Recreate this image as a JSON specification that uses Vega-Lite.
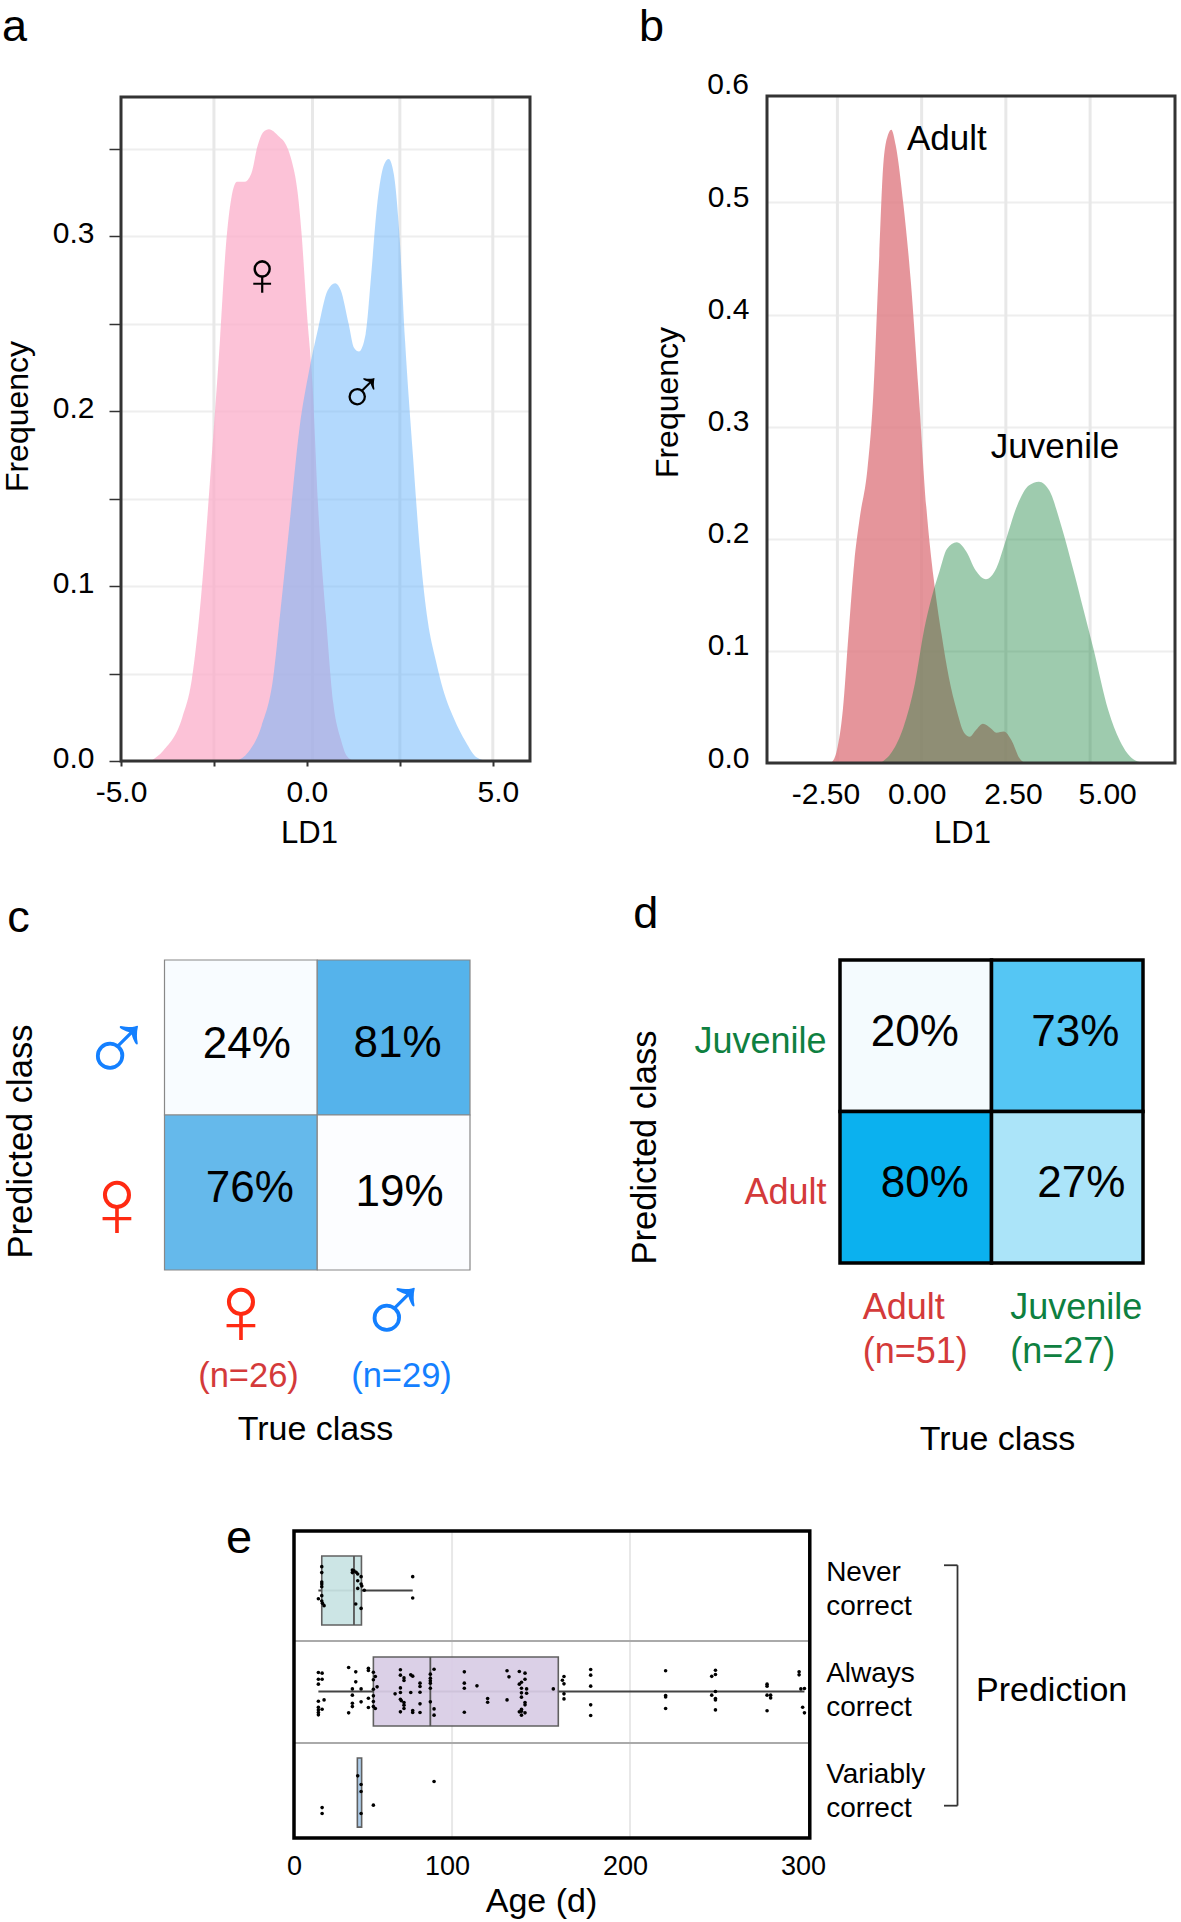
{
"$schema":"https://vega.github.io/schema/vega-lite/v6.json",
"width":1181,"height":1922,"autosize":{"type":"none"},"padding":0,"background":"white",
"config":{"font":"Liberation Sans","view":{"stroke":null},"axis":{"labelFont":"Liberation Sans","titleFont":"Liberation Sans","titleFontWeight":"normal","labelColor":"#000","titleColor":"#000","tickColor":"#333","labelFlush":false,"labelOverlap":false,"domain":false,"labelBound":false},"text":{"font":"Liberation Sans"}},
"datasets":{
"sex":[
{"group":"♀","x":-4.2,"y":0},{"group":"♀","x":-3.86,"y":0.006},{"group":"♀","x":-3.35,"y":0.025},{"group":"♀","x":-3.1,"y":0.046},{"group":"♀","x":-2.85,"y":0.093},{"group":"♀","x":-2.59,"y":0.165},{"group":"♀","x":-2.34,"y":0.24},{"group":"♀","x":-2.18,"y":0.294},{"group":"♀","x":-2.03,"y":0.322},{"group":"♀","x":-1.88,"y":0.331},{"group":"♀","x":-1.68,"y":0.331},{"group":"♀","x":-1.5,"y":0.3355},{"group":"♀","x":-1.32,"y":0.352},{"group":"♀","x":-1.17,"y":0.3595},{"group":"♀","x":-1.02,"y":0.361},{"group":"♀","x":-0.76,"y":0.357},{"group":"♀","x":-0.56,"y":0.352},{"group":"♀","x":-0.41,"y":0.343},{"group":"♀","x":-0.25,"y":0.325},{"group":"♀","x":-0.15,"y":0.303},{"group":"♀","x":0,"y":0.256},{"group":"♀","x":0.15,"y":0.215},{"group":"♀","x":0.3,"y":0.146},{"group":"♀","x":0.51,"y":0.083},{"group":"♀","x":0.71,"y":0.033},{"group":"♀","x":0.91,"y":0.0126},{"group":"♀","x":1.07,"y":0.003},{"group":"♀","x":1.27,"y":0},
{"group":"♂","x":-1.88,"y":0},{"group":"♂","x":-1.58,"y":0.005},{"group":"♂","x":-1.22,"y":0.02},{"group":"♂","x":-0.91,"y":0.047},{"group":"♂","x":-0.71,"y":0.086},{"group":"♂","x":-0.46,"y":0.137},{"group":"♂","x":-0.2,"y":0.19},{"group":"♂","x":0.05,"y":0.222},{"group":"♂","x":0.3,"y":0.247},{"group":"♂","x":0.56,"y":0.269},{"group":"♂","x":0.76,"y":0.273},{"group":"♂","x":0.91,"y":0.269},{"group":"♂","x":1.12,"y":0.25},{"group":"♂","x":1.27,"y":0.236},{"group":"♂","x":1.4,"y":0.234},{"group":"♂","x":1.58,"y":0.244},{"group":"♂","x":1.73,"y":0.278},{"group":"♂","x":1.88,"y":0.316},{"group":"♂","x":2.08,"y":0.341},{"group":"♂","x":2.2,"y":0.344},{"group":"♂","x":2.34,"y":0.335},{"group":"♂","x":2.49,"y":0.3},{"group":"♂","x":2.64,"y":0.24},{"group":"♂","x":2.85,"y":0.175},{"group":"♂","x":3.05,"y":0.118},{"group":"♂","x":3.25,"y":0.08},{"group":"♂","x":3.46,"y":0.058},{"group":"♂","x":3.66,"y":0.041},{"group":"♂","x":3.96,"y":0.024},{"group":"♂","x":4.27,"y":0.011},{"group":"♂","x":4.57,"y":0.002},{"group":"♂","x":4.88,"y":0}],
"age":[
{"group":"Adult","x":-2.68,"y":0},{"group":"Adult","x":-2.51,"y":0.012},{"group":"Adult","x":-2.34,"y":0.047},{"group":"Adult","x":-2.17,"y":0.115},{"group":"Adult","x":-2.0,"y":0.179},{"group":"Adult","x":-1.84,"y":0.218},{"group":"Adult","x":-1.61,"y":0.262},{"group":"Adult","x":-1.44,"y":0.326},{"group":"Adult","x":-1.27,"y":0.444},{"group":"Adult","x":-1.13,"y":0.537},{"group":"Adult","x":-0.99,"y":0.561},{"group":"Adult","x":-0.9,"y":0.565},{"group":"Adult","x":-0.77,"y":0.551},{"group":"Adult","x":-0.54,"y":0.498},{"group":"Adult","x":-0.32,"y":0.429},{"group":"Adult","x":-0.09,"y":0.331},{"group":"Adult","x":0.14,"y":0.228},{"group":"Adult","x":0.36,"y":0.164},{"group":"Adult","x":0.59,"y":0.115},{"group":"Adult","x":0.81,"y":0.076},{"group":"Adult","x":1.04,"y":0.047},{"group":"Adult","x":1.26,"y":0.027},{"group":"Adult","x":1.43,"y":0.0235},{"group":"Adult","x":1.6,"y":0.029},{"group":"Adult","x":1.82,"y":0.035},{"group":"Adult","x":2.05,"y":0.031},{"group":"Adult","x":2.22,"y":0.027},{"group":"Adult","x":2.44,"y":0.028},{"group":"Adult","x":2.67,"y":0.02},{"group":"Adult","x":2.89,"y":0.005},{"group":"Adult","x":3.06,"y":0},
{"group":"Juvenile","x":-1.22,"y":0},{"group":"Juvenile","x":-0.88,"y":0.01},{"group":"Juvenile","x":-0.54,"y":0.032},{"group":"Juvenile","x":-0.2,"y":0.071},{"group":"Juvenile","x":0.08,"y":0.12},{"group":"Juvenile","x":0.3,"y":0.148},{"group":"Juvenile","x":0.53,"y":0.171},{"group":"Juvenile","x":0.75,"y":0.191},{"group":"Juvenile","x":1.04,"y":0.197},{"group":"Juvenile","x":1.32,"y":0.189},{"group":"Juvenile","x":1.6,"y":0.172},{"group":"Juvenile","x":1.91,"y":0.164},{"group":"Juvenile","x":2.22,"y":0.174},{"group":"Juvenile","x":2.5,"y":0.199},{"group":"Juvenile","x":2.84,"y":0.23},{"group":"Juvenile","x":3.18,"y":0.2475},{"group":"Juvenile","x":3.48,"y":0.251},{"group":"Juvenile","x":3.79,"y":0.243},{"group":"Juvenile","x":4.13,"y":0.213},{"group":"Juvenile","x":4.53,"y":0.169},{"group":"Juvenile","x":4.81,"y":0.136},{"group":"Juvenile","x":5.09,"y":0.103},{"group":"Juvenile","x":5.54,"y":0.047},{"group":"Juvenile","x":5.88,"y":0.02},{"group":"Juvenile","x":6.33,"y":0.0025},{"group":"Juvenile","x":6.67,"y":0}],
"cellsSex":[{"true":"♀","predicted":"♂","pct":24,"label":"24%"},{"true":"♂","predicted":"♂","pct":81,"label":"81%"},{"true":"♀","predicted":"♀","pct":76,"label":"76%"},{"true":"♂","predicted":"♀","pct":19,"label":"19%"}],
"cellsAge":[{"true":"Adult","predicted":"Juvenile","pct":20,"label":"20%"},{"true":"Juvenile","predicted":"Juvenile","pct":73,"label":"73%"},{"true":"Adult","predicted":"Adult","pct":80,"label":"80%"},{"true":"Juvenile","predicted":"Adult","pct":27,"label":"27%"}],
"boxes":[{"prediction":"Never\ncorrect","row":1,"top":0.658,"bottom":1.342,"q1":26.8,"median":44.9,"q3":49.1,"lo":24.9,"hi":77.9},{"prediction":"Always\ncorrect","row":2,"top":1.658,"bottom":2.342,"q1":55.8,"median":87.8,"q3":159.7,"lo":24.9,"hi":298},{"prediction":"Variably\ncorrect","row":3,"top":2.658,"bottom":3.342,"q1":46.8,"median":null,"q3":49.2,"lo":47,"hi":49}],
"dots":[
{"age":26.8,"pos":0.764},{"age":26.8,"pos":0.823},{"age":26.8,"pos":0.916},{"age":26.8,"pos":0.936},{"age":26.8,"pos":0.962},{"age":24.9,"pos":1.081},{"age":26.8,"pos":1.051},{"age":26.8,"pos":1.104},{"age":27.2,"pos":1.127},{"age":28.1,"pos":1.15},{"age":44,"pos":0.797},{"age":44,"pos":0.823},{"age":44.9,"pos":0.804},{"age":46.1,"pos":0.82},{"age":47,"pos":0.837},{"age":48.9,"pos":0.863},{"age":47,"pos":0.903},{"age":47,"pos":0.979},{"age":48.9,"pos":0.936},{"age":49.3,"pos":0.955},{"age":50.7,"pos":0.998},{"age":45.9,"pos":1.134},{"age":48.9,"pos":1.177},{"age":77.9,"pos":0.863},{"age":77.9,"pos":1.074},
{"age":24.9,"pos":1.812},{"age":27,"pos":1.818},{"age":24.9,"pos":1.878},{"age":27,"pos":1.878},{"age":24.9,"pos":1.927},{"age":24.9,"pos":2.096},{"age":28.1,"pos":2.083},{"age":24.9,"pos":2.155},{"age":27,"pos":2.175},{"age":24.9,"pos":2.182},{"age":24.9,"pos":2.208},{"age":24.9,"pos":2.231},
{"age":41.9,"pos":1.762},{"age":45.9,"pos":1.805},{"age":45.9,"pos":1.904},{"age":44,"pos":1.974},{"age":48.9,"pos":1.974},{"age":44,"pos":2.036},{"age":44,"pos":2.116},{"age":44,"pos":2.149},{"age":48.9,"pos":2.102},{"age":41.9,"pos":2.211},{"age":53,"pos":1.769},{"age":53,"pos":1.792},{"age":53,"pos":2.066},{"age":53,"pos":2.158},
{"age":55.8,"pos":1.809},{"age":56.9,"pos":1.851},{"age":55.8,"pos":1.884},{"age":57.9,"pos":1.954},{"age":55.8,"pos":1.977},{"age":55.8,"pos":2.043},{"age":55.8,"pos":2.099},{"age":55.8,"pos":2.149},{"age":56.9,"pos":2.168},
{"age":71,"pos":1.785},{"age":71,"pos":1.838},{"age":73,"pos":1.865},{"age":73,"pos":1.891},{"age":76.8,"pos":1.835},{"age":77.9,"pos":1.848},{"age":82,"pos":1.917},{"age":82,"pos":1.95},{"age":71,"pos":1.964},{"age":71,"pos":2.01},{"age":68,"pos":2.023},{"age":76.8,"pos":2.01},{"age":82,"pos":2.007},{"age":71,"pos":2.076},{"age":71.5,"pos":2.092},{"age":73,"pos":2.109},{"age":73,"pos":2.135},{"age":73,"pos":2.168},{"age":82,"pos":2.122},{"age":71,"pos":2.201},{"age":77.9,"pos":2.188},{"age":77.9,"pos":2.208},{"age":82,"pos":2.208},
{"age":87.8,"pos":1.828},{"age":87.8,"pos":1.868},{"age":87.8,"pos":1.894},{"age":87.8,"pos":1.917},{"age":87.8,"pos":1.967},{"age":89.9,"pos":1.779},{"age":87.8,"pos":2.102},{"age":89.9,"pos":2.172},{"age":89.9,"pos":2.234},
{"age":106.9,"pos":1.805},{"age":106.9,"pos":1.917},{"age":106.9,"pos":1.967},{"age":106.9,"pos":2.205},{"age":114,"pos":1.944},{"age":120,"pos":2.069},{"age":120,"pos":2.106},{"age":130.9,"pos":2.083},{"age":130.9,"pos":1.795},{"age":132,"pos":1.855},
{"age":137.8,"pos":1.802},{"age":141,"pos":1.818},{"age":141,"pos":1.878},{"age":139,"pos":1.908},{"age":137.8,"pos":1.927},{"age":141.9,"pos":1.974},{"age":139,"pos":1.967},{"age":139,"pos":2.013},{"age":141.9,"pos":2.017},{"age":139,"pos":2.056},{"age":141,"pos":2.109},{"age":141,"pos":2.132},{"age":139,"pos":2.175},{"age":137.8,"pos":2.201},{"age":139,"pos":2.195},{"age":139,"pos":2.234},{"age":141,"pos":2.211},
{"age":156.9,"pos":1.974},{"age":162,"pos":1.888},{"age":162.9,"pos":1.851},{"age":162.9,"pos":1.924},{"age":162.9,"pos":2.023},{"age":162.9,"pos":2.073},{"age":177.9,"pos":1.782},{"age":177.9,"pos":1.838},{"age":177.9,"pos":1.947},{"age":177.9,"pos":2.132},{"age":177.9,"pos":2.238},
{"age":220,"pos":1.795},{"age":220,"pos":2.04},{"age":220,"pos":2.053},{"age":220,"pos":2.168},{"age":248,"pos":1.789},{"age":248,"pos":1.832},{"age":248,"pos":2},{"age":248,"pos":2.069},{"age":248,"pos":2.083},{"age":248,"pos":2.182},{"age":245.9,"pos":1.85},{"age":245.9,"pos":2.036},{"age":277,"pos":1.927},{"age":277,"pos":1.947},{"age":277,"pos":2.036},{"age":277,"pos":2.191},{"age":279,"pos":2.036},{"age":279,"pos":2.063},{"age":295,"pos":1.805},{"age":295,"pos":1.835},{"age":296,"pos":1.974},{"age":298,"pos":1.97},{"age":297,"pos":2.155},{"age":298,"pos":2.211},
{"age":47,"pos":2.835},{"age":48.9,"pos":2.921},{"age":48.9,"pos":2.99},{"age":48.9,"pos":3.208},{"age":27,"pos":3.149},{"age":27,"pos":3.208},{"age":55.8,"pos":3.125},{"age":89.9,"pos":2.89}]
},
"resolve":{"scale":{"x":"independent","y":"independent","color":"independent"},"axis":{"x":"independent","y":"independent"}},
"layer":[
{"layer":[
{"data":{"values":[{"x":-2.5},{"x":0.15},{"x":2.5},{"x":5}]},"mark":{"type":"rule","color":"#e8e8e8","strokeWidth":3},"encoding":{"x":{"field":"x","type":"quantitative","scale":{"domain":[-5,6],"range":[121,530],"nice":false,"zero":false},"axis":null},"y":{"datum":0,"scale":{"domain":[0,0.3795],"range":[761,97],"nice":false,"zero":false},"axis":null},"y2":{"datum":0.3795}}},
{"data":{"name":"sex"},"mark":{"type":"area","interpolate":"monotone"},"encoding":{
"x":{"field":"x","type":"quantitative","axis":null},
"y":{"field":"y","type":"quantitative","stack":null,"axis":null},
"color":{"field":"group","type":"nominal","scale":{"domain":["♀","♂"],"range":["rgba(251,173,201,0.75)","rgba(104,180,252,0.5)"]},"legend":null}}},
{"data":{"values":[{"label":"♀","x":-1.2,"y":0.277},{"label":"♂","x":1.47,"y":0.21}]},"mark":{"type":"text","font":"Liberation Sans","fontSize":62,"baseline":"middle","color":"#000"},"encoding":{"x":{"field":"x","type":"quantitative","axis":null},"y":{"field":"y","type":"quantitative","axis":null},"text":{"field":"label"}}},
{"data":{"values":[{"label":"a","x":-8.2,"y":0.4114},{"label":"c","x":-8.06,"y":-0.0977}]},"mark":{"type":"text","fontSize":45,"align":"left","baseline":"alphabetic","color":"#000"},"encoding":{"x":{"field":"x","type":"quantitative","axis":null},"y":{"field":"y","type":"quantitative","axis":null},"text":{"field":"label"}}}
]},
{"data":{"values":[{}]},"mark":{"type":"rect","filled":false,"stroke":"#333","strokeWidth":3},"encoding":{
"x":{"datum":-5,"scale":{"domain":[-5,6],"range":[121,530],"nice":false,"zero":false},"axis":{"orient":"bottom","offset":-1161,"values":[-5,-2.5,0,2.5,5],"labelExpr":"abs(datum.value)==2.5 ? '' : replace(format(datum.value,'.1f'),'−','-')","labelFontSize":30,"labelBaseline":"middle","labelPadding":26,"labelOffset":{"condition":{"test":"datum.value==5","value":5},"value":0},"tickSize":5,"tickWidth":2,"title":"LD1","titleFontSize":31,"titleX":309,"titleY":72,"titleBaseline":"middle"}},"x2":{"datum":6},
"y":{"datum":0,"scale":{"domain":[0,0.3795],"range":[761,97],"nice":false,"zero":false},"axis":{"orient":"left","offset":-121,"values":[0,0.05,0.1,0.15,0.2,0.25,0.3,0.35],"labelExpr":"round(datum.value*100)%10==0 ? format(datum.value,'.1f') : ''","labelFontSize":30,"labelPadding":15,"labelOffset":-3,"tickSize":12,"tickWidth":1.5,"grid":true,"gridColor":"#eeeeee","gridWidth":2,"title":"Frequency","titleFontSize":32,"titleX":-104,"titleY":416,"titleBaseline":"middle"}},"y2":{"datum":0.3795}}},
{"layer":[
{"data":{"values":[{"x":-2.5},{"x":0},{"x":2.5},{"x":5}]},"mark":{"type":"rule","color":"#e8e8e8","strokeWidth":3},"encoding":{"x":{"field":"x","type":"quantitative","scale":{"domain":[-4.59,7.52],"range":[767,1175],"nice":false,"zero":false},"axis":null},"y":{"datum":0,"scale":{"domain":[0,0.595],"range":[763,96],"nice":false,"zero":false},"axis":null},"y2":{"datum":0.595}}},
{"data":{"name":"age"},"mark":{"type":"area","interpolate":"monotone"},"encoding":{
"x":{"field":"x","type":"quantitative","axis":null},
"y":{"field":"y","type":"quantitative","stack":null,"axis":null},
"color":{"field":"group","type":"nominal","scale":{"domain":["Adult","Juvenile"],"range":["rgba(222,122,130,0.8)","rgba(30,135,67,0.43)"]},"legend":null}}},
{"data":{"values":[{"label":"Adult","x":0.75,"y":0.5566},{"label":"Juvenile","x":3.96,"y":0.2815}]},"mark":{"type":"text","fontSize":35,"align":"center","baseline":"middle","color":"#000"},"encoding":{"x":{"field":"x","type":"quantitative","axis":null},"y":{"field":"y","type":"quantitative","axis":null},"text":{"field":"label"}}},
{"data":{"values":[{"label":"0.6","x":-4.59,"y":0.6}]},"mark":{"type":"text","fontSize":30,"align":"right","baseline":"middle","dx":-18,"dy":-5,"color":"#000"},"encoding":{"x":{"field":"x","type":"quantitative","axis":null},"y":{"field":"y","type":"quantitative","axis":null},"text":{"field":"label"}}},
{"data":{"values":[{"label":"b","x":-8.39,"y":0.644},{"label":"d","x":-8.56,"y":-0.147}]},"mark":{"type":"text","fontSize":45,"align":"left","baseline":"alphabetic","color":"#000"},"encoding":{"x":{"field":"x","type":"quantitative","axis":null},"y":{"field":"y","type":"quantitative","axis":null},"text":{"field":"label"}}}
]},
{"data":{"values":[{}]},"mark":{"type":"rect","filled":false,"stroke":"#333","strokeWidth":3},"encoding":{
"x":{"datum":-4.59,"scale":{"domain":[-4.59,7.52],"range":[767,1175],"nice":false,"zero":false},"axis":{"orient":"bottom","offset":-1159,"values":[-2.5,0,2.5,5],"labelExpr":"replace(format(datum.value,'.2f'),'−','-')","labelFontSize":30,"labelBaseline":"middle","labelPadding":31,"tickSize":0,"ticks":false,"labelOffset":{"condition":[{"test":"datum.value==-2.5","value":-12},{"test":"datum.value==0","value":-5},{"test":"datum.value==2.5","value":7}],"value":17},"title":"LD1","titleFontSize":31,"titleX":962,"titleY":70,"titleBaseline":"middle"}},"x2":{"datum":7.52},
"y":{"datum":0,"scale":{"domain":[0,0.595],"range":[763,96],"nice":false,"zero":false},"axis":{"orient":"left","offset":-767,"values":[0,0.1,0.2,0.3,0.4,0.5],"format":".1f","labelFontSize":30,"labelPadding":18,"labelOffset":-5,"tickSize":0,"ticks":false,"grid":true,"gridColor":"#eeeeee","gridWidth":2,"title":"Frequency","titleFontSize":32,"titleX":-100,"titleY":402,"titleBaseline":"middle"}},"y2":{"datum":0.595}}},
{"data":{"name":"cellsSex"},"mark":{"type":"rect","stroke":"#888","strokeWidth":1.2},"encoding":{
"x":{"field":"true","type":"nominal","scale":{"type":"band","domain":["♀","♂"],"range":[164.5,470],"paddingInner":0,"paddingOuter":0},"axis":{"orient":"bottom","offset":-652,"labelFont":"Liberation Sans","labelFontSize":100,"labelAngle":0,"labelBaseline":"middle","labelPadding":43,"ticks":false,"tickSize":0,"labelColor":{"condition":{"test":"datum.value=='♀'","value":"#FF2A12"},"value":"#1480FF"},"title":"True class","titleFontSize":34,"titleX":315,"titleY":159,"titleBaseline":"middle"}},
"y":{"field":"predicted","type":"nominal","scale":{"type":"band","domain":["♂","♀"],"range":[960,1270],"paddingInner":0,"paddingOuter":0},"axis":{"orient":"left","offset":-164.5,"labelFont":"Liberation Sans","labelFontSize":100,"labelAlign":"center","labelPadding":48,"labelOffset":14,"ticks":false,"tickSize":0,"labelColor":{"condition":{"test":"datum.value=='♀'","value":"#FF2A12"},"value":"#1480FF"},"title":"Predicted class","titleFontSize":34.5,"titleX":-143,"titleY":1141,"titleBaseline":"middle"}},
"color":{"field":"pct","type":"quantitative","scale":{"domain":[19,24,76,81],"range":["#FCFDFF","#F8FCFF","#65B9EB","#55B3EB"]},"legend":null}}},
{"data":{"name":"cellsSex"},"layer":[
{"transform":[{"filter":"datum.label=='24%'"}],"mark":{"type":"text","fontSize":44,"dx":6,"dy":7,"baseline":"middle","color":"#000"},"encoding":{"x":{"field":"true","type":"nominal","scale":{"type":"band","domain":["♀","♂"],"range":[164.5,470],"paddingInner":0,"paddingOuter":0},"axis":null},"y":{"field":"predicted","type":"nominal","scale":{"type":"band","domain":["♂","♀"],"range":[960,1270],"paddingInner":0,"paddingOuter":0},"axis":null},"text":{"field":"label"}}},
{"transform":[{"filter":"datum.label=='81%'"}],"mark":{"type":"text","fontSize":44,"dx":4,"dy":6,"baseline":"middle","color":"#000"},"encoding":{"x":{"field":"true","type":"nominal","axis":null},"y":{"field":"predicted","type":"nominal","axis":null},"text":{"field":"label"}}},
{"transform":[{"filter":"datum.label=='76%'"}],"mark":{"type":"text","fontSize":44,"dx":9,"dy":-4,"baseline":"middle","color":"#000"},"encoding":{"x":{"field":"true","type":"nominal","axis":null},"y":{"field":"predicted","type":"nominal","axis":null},"text":{"field":"label"}}},
{"transform":[{"filter":"datum.label=='19%'"}],"mark":{"type":"text","fontSize":44,"dx":6,"dy":0,"baseline":"middle","color":"#000"},"encoding":{"x":{"field":"true","type":"nominal","axis":null},"y":{"field":"predicted","type":"nominal","axis":null},"text":{"field":"label"}}}
]},
{"data":{"values":[{"true":"♀","row":"n","label":"(n=26)"},{"true":"♂","row":"n","label":"(n=29)"}]},"mark":{"type":"text","fontSize":34.5,"baseline":"middle"},"encoding":{
"x":{"field":"true","type":"nominal","scale":{"type":"band","domain":["♀","♂"],"range":[172,478],"paddingInner":0,"paddingOuter":0},"axis":null},
"y":{"field":"row","type":"nominal","scale":{"type":"band","domain":["n"],"range":[1357,1397],"paddingInner":0,"paddingOuter":0},"axis":null},
"color":{"field":"true","type":"nominal","scale":{"domain":["♀","♂"],"range":["#D43A3A","#1480FF"]},"legend":null},
"text":{"field":"label"}}},
{"data":{"name":"cellsAge"},"mark":{"type":"rect","stroke":"#000","strokeWidth":3.5},"encoding":{
"x":{"field":"true","type":"nominal","scale":{"type":"band","domain":["Adult","Juvenile"],"range":[840,1143],"paddingInner":0,"paddingOuter":0},"axis":{"orient":"bottom","offset":-659,"labelExpr":"datum.value=='Adult' ? ['Adult','(n=51)'] : ['Juvenile','(n=27)']","labelFontSize":36,"labelAngle":0,"labelAlign":"left","labelBaseline":"top","labelLineHeight":44,"labelOffset":{"condition":{"test":"datum.value=='Adult'","value":-53},"value":-57},"labelPadding":27,"ticks":false,"tickSize":0,"labelColor":{"condition":{"test":"datum.value=='Adult'","value":"#D43A3A"},"value":"#0E8040"},"title":"True class","titleFontSize":34,"titleX":997,"titleY":176,"titleBaseline":"middle"}},
"y":{"field":"predicted","type":"nominal","scale":{"type":"band","domain":["Juvenile","Adult"],"range":[960,1263],"paddingInner":0,"paddingOuter":0},"axis":{"orient":"left","offset":-840,"labelFontSize":36,"labelPadding":14,"labelOffset":6,"ticks":false,"tickSize":0,"labelColor":{"condition":{"test":"datum.value=='Adult'","value":"#D43A3A"},"value":"#0E8040"},"title":"Predicted class","titleFontSize":34.5,"titleX":-195,"titleY":1147,"titleBaseline":"middle"}},
"color":{"field":"pct","type":"quantitative","scale":{"domain":[20,27,73,80],"range":["#F4FBFE","#ABE4F9","#55C6F4","#0BB1EF"]},"legend":null}}},
{"data":{"name":"cellsAge"},"layer":[
{"transform":[{"filter":"datum.label=='20%'"}],"mark":{"type":"text","fontSize":44,"dx":-1,"dy":-3,"baseline":"middle","color":"#000"},"encoding":{"x":{"field":"true","type":"nominal","scale":{"type":"band","domain":["Adult","Juvenile"],"range":[840,1143],"paddingInner":0,"paddingOuter":0},"axis":null},"y":{"field":"predicted","type":"nominal","scale":{"type":"band","domain":["Juvenile","Adult"],"range":[960,1263],"paddingInner":0,"paddingOuter":0},"axis":null},"text":{"field":"label"}}},
{"transform":[{"filter":"datum.label=='73%'"}],"mark":{"type":"text","fontSize":44,"dx":8,"dy":-3,"baseline":"middle","color":"#000"},"encoding":{"x":{"field":"true","type":"nominal","axis":null},"y":{"field":"predicted","type":"nominal","axis":null},"text":{"field":"label"}}},
{"transform":[{"filter":"datum.label=='80%'"}],"mark":{"type":"text","fontSize":44,"dx":9,"dy":-3,"baseline":"middle","color":"#000"},"encoding":{"x":{"field":"true","type":"nominal","axis":null},"y":{"field":"predicted","type":"nominal","axis":null},"text":{"field":"label"}}},
{"transform":[{"filter":"datum.label=='27%'"}],"mark":{"type":"text","fontSize":44,"dx":14,"dy":-3,"baseline":"middle","color":"#000"},"encoding":{"x":{"field":"true","type":"nominal","axis":null},"y":{"field":"predicted","type":"nominal","axis":null},"text":{"field":"label"}}}
]},
{"layer":[
{"data":{"values":[{"age":100},{"age":200}]},"mark":{"type":"rule","color":"#e8e8e8","strokeWidth":2},"encoding":{"x":{"field":"age","type":"quantitative","scale":{"domain":[11.2,300],"range":[294,808],"nice":false,"zero":false},"axis":null},"y":{"datum":0.411,"scale":{"domain":[0.411,3.45],"range":[1531,1838],"nice":false,"zero":false},"axis":null},"y2":{"datum":3.45}}},
{"data":{"values":[{"pos":1.5},{"pos":2.51}]},"mark":{"type":"rule","color":"#aaaaaa","strokeWidth":2},"encoding":{"x":{"datum":11.2,"axis":null},"x2":{"datum":300},"y":{"field":"pos","type":"quantitative","axis":null}}},
{"data":{"name":"boxes"},"mark":{"type":"rule","color":"#444","strokeWidth":1.8},"encoding":{"x":{"field":"lo","type":"quantitative","axis":null},"x2":{"field":"hi"},"y":{"field":"row","type":"quantitative","axis":null}}},
{"data":{"name":"boxes"},"mark":{"type":"rect","stroke":"#555","strokeWidth":1.6,"opacity":0.93},"encoding":{"x":{"field":"q1","type":"quantitative","axis":null},"x2":{"field":"q3"},"y":{"field":"top","type":"quantitative","axis":null},"y2":{"field":"bottom"},"color":{"field":"prediction","type":"nominal","scale":{"domain":["Never\ncorrect","Always\ncorrect","Variably\ncorrect"],"range":["#C9E4E4","#D9CDE6","#A9CBEA"]},"legend":null}}},
{"data":{"name":"boxes"},"mark":{"type":"rule","color":"#555","strokeWidth":1.8},"encoding":{"x":{"field":"median","type":"quantitative","axis":null},"y":{"field":"top","type":"quantitative","axis":null},"y2":{"field":"bottom"}}},
{"data":{"name":"dots"},"mark":{"type":"circle","size":13,"color":"#000","opacity":1},"encoding":{"x":{"field":"age","type":"quantitative","axis":null},"y":{"field":"pos","type":"quantitative","axis":null}}},
{"data":{"name":"boxes"},"mark":{"type":"text","fontSize":28,"align":"left","baseline":"middle","lineBreak":"\n","lineHeight":34,"dy":-18,"color":"#000"},"encoding":{"x":{"datum":310.2,"axis":null},"y":{"field":"row","type":"quantitative","axis":null},"text":{"field":"prediction"}}},
{"data":{"values":[{"label":"e","x":-27,"y":0.629}]},"mark":{"type":"text","fontSize":47,"align":"left","baseline":"alphabetic","color":"#000"},"encoding":{"x":{"field":"x","type":"quantitative","axis":null},"y":{"field":"y","type":"quantitative","axis":null},"text":{"field":"label"}}},
{"data":{"values":[{"label":"Prediction","x":394.4,"y":1.99}]},"mark":{"type":"text","fontSize":34,"align":"left","baseline":"middle","color":"#000"},"encoding":{"x":{"field":"x","type":"quantitative","axis":null},"y":{"field":"y","type":"quantitative","axis":null},"text":{"field":"label"}}},
{"data":{"values":[{"from":376.4,"to":384,"pos":0.75},{"from":376.4,"to":384,"pos":3.13}]},"mark":{"type":"rule","color":"#333","strokeWidth":1.8},"encoding":{"x":{"field":"from","type":"quantitative","axis":null},"x2":{"field":"to"},"y":{"field":"pos","type":"quantitative","axis":null}}},
{"data":{"values":[{"at":384,"from":0.75,"to":3.13}]},"mark":{"type":"rule","color":"#333","strokeWidth":1.8},"encoding":{"x":{"field":"at","type":"quantitative","axis":null},"y":{"field":"from","type":"quantitative","axis":null},"y2":{"field":"to"}}}
]},
{"data":{"values":[{}]},"mark":{"type":"rect","filled":false,"stroke":"#000","strokeWidth":3.5},"encoding":{
"x":{"datum":11.2,"scale":{"domain":[11.2,300],"range":[294,808],"nice":false,"zero":false},"axis":{"orient":"bottom","offset":-84,"values":[11.2,100,200,300],"labelExpr":"datum.value<50 ? '0' : format(datum.value,'d')","labelFontSize":27,"labelBaseline":"middle","labelPadding":28,"labelOffset":{"condition":{"test":"datum.value<50","value":0},"value":-5},"ticks":false,"tickSize":0,"title":"Age (d)","titleFontSize":34,"titleX":541,"titleY":63,"titleBaseline":"middle"}},"x2":{"datum":301},
"y":{"datum":0.411,"scale":{"domain":[0.411,3.45],"range":[1531,1838],"nice":false,"zero":false},"axis":null},"y2":{"datum":3.45}}}
]}
